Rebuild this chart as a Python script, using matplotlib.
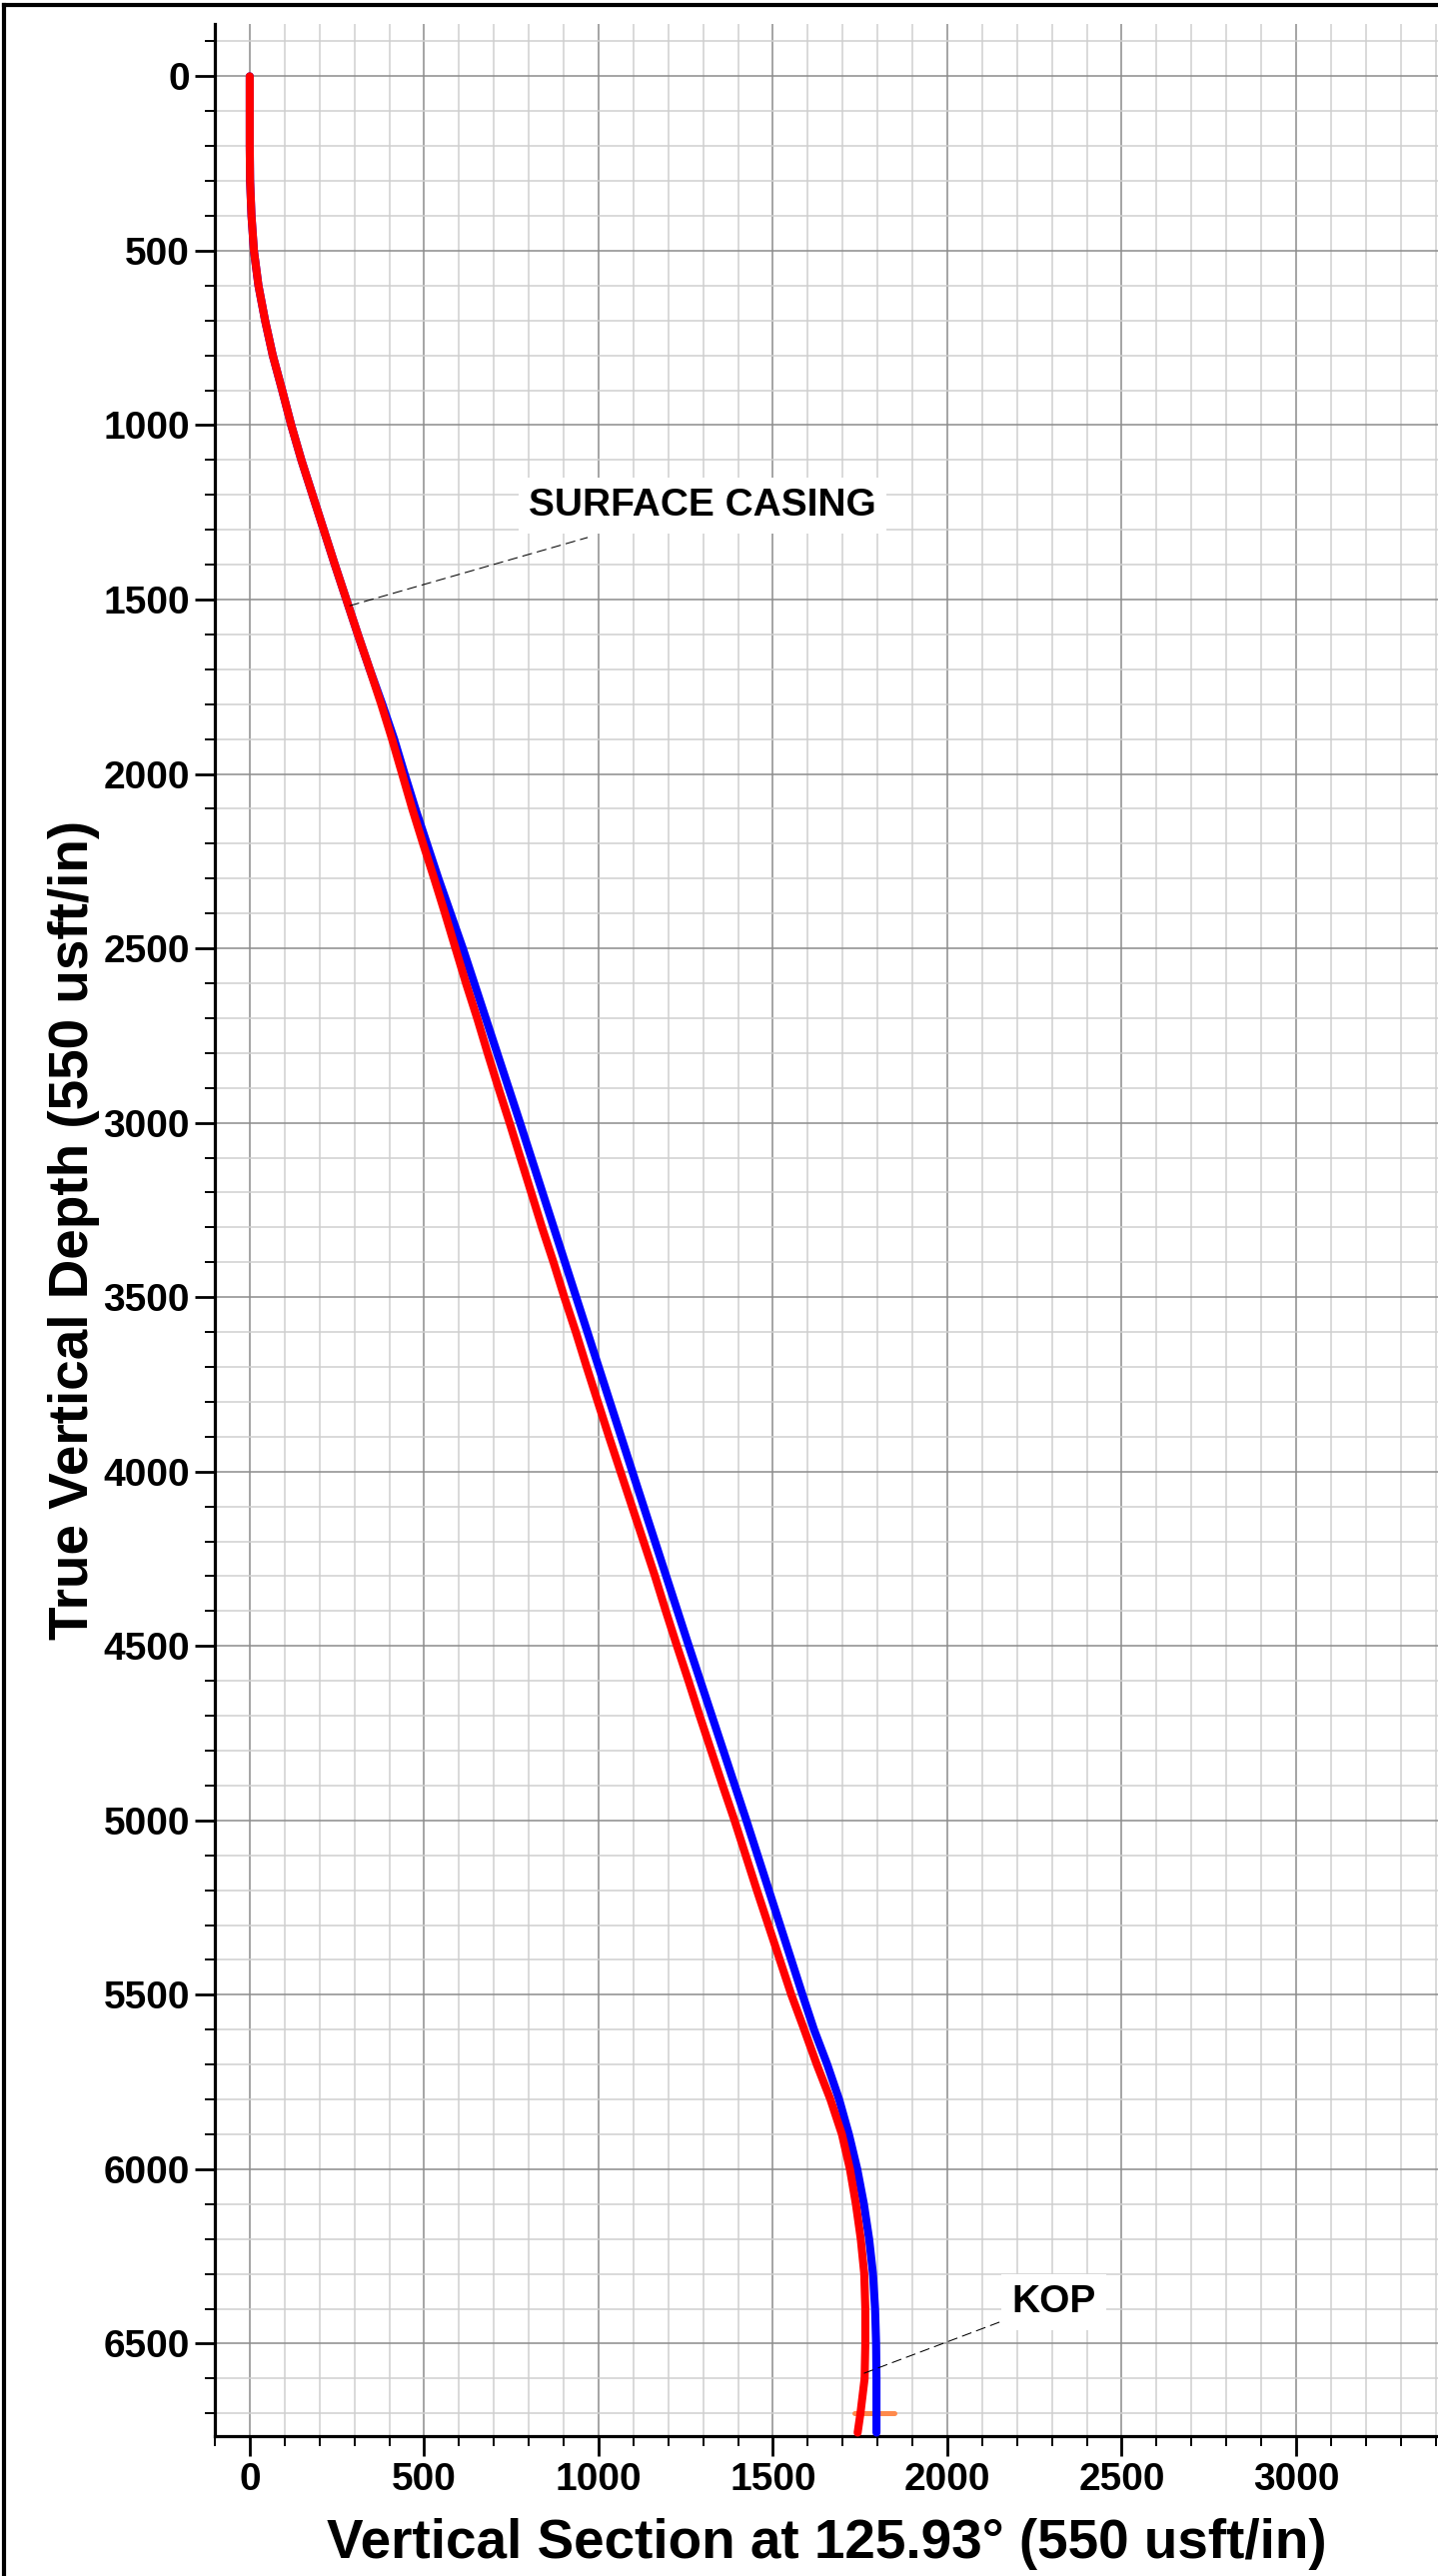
import matplotlib
matplotlib.use("Agg")
import matplotlib.pyplot as plt
from matplotlib.lines import Line2D
from matplotlib.ticker import MultipleLocator

plt.rcParams['font.family'] = ['Liberation Sans', 'DejaVu Sans']
plt.rcParams['font.weight'] = 'bold'

# ---------------- data ----------------
# Actual (red) trajectory: true vertical depth vs vertical section
actual_tvd = [0, 100, 200, 300, 400, 500, 600, 700, 800, 900, 1000, 1100, 1200,
              1300, 1400, 1500, 1600, 1700, 1800, 1900, 2000, 2100, 2200, 2300,
              2400, 2500, 2600, 2700, 2800, 2900, 3000, 3100, 3200, 3300, 3400,
              3500, 3600, 3700, 3800, 3900, 4000, 4100, 4200, 4300, 4400, 4500,
              4600, 4700, 4800, 4900, 5000, 5100, 5200, 5300, 5400, 5500, 5600,
              5700, 5800, 5900, 6000, 6100, 6200, 6300, 6400, 6500, 6600, 6700,
              6755]
actual_vs = [0, 0, 0, 1, 5, 12, 25, 44, 66, 93, 119, 148, 180,
             212, 244, 277, 310, 344, 377, 408, 437, 466, 497, 529,
             560, 590, 620, 652, 682, 713, 745, 776, 807, 838, 871,
             902, 935, 966, 998, 1030, 1063, 1096, 1129, 1162, 1193, 1225,
             1258, 1290, 1323, 1356, 1390, 1422, 1454, 1487, 1520, 1553, 1590,
             1626, 1665, 1698, 1721, 1738, 1752, 1762, 1765, 1765, 1763, 1751,
             1743]

# Planned (blue) trajectory
plan_tvd = [0, 100, 200, 300, 400, 500, 600, 700, 800, 900, 1000, 1100, 1200,
            1300, 1400, 1500, 1600, 1700, 1800, 1900, 2000, 2100, 2200, 2300,
            2500, 3000, 3500, 4000, 4500, 5000, 5500, 5600, 5700, 5800, 5900,
            6000, 6100, 6200, 6300, 6400, 6500, 6600, 6755]
plan_vs = [0, 0, 0, 1, 5, 12, 25, 44, 66, 93, 119, 148, 180,
           212, 244, 277, 310, 344, 380, 414, 444, 475, 508, 541,
           611, 775, 936, 1097, 1259, 1424, 1585, 1618, 1656, 1690, 1718,
           1742, 1761, 1776, 1787, 1793, 1796, 1797, 1797]

# Short orange marker near the bottom
marker_vs = [1734, 1849]
marker_tvd = [6698, 6698]

# Annotations
annot_labels = ["SURFACE CASING", "KOP"]
annot_text_xy = [(1299, 1230), (2305, 6382)]
annot_line_start = [(286, 1518), (1761, 6585)]
annot_line_end = [(969, 1322), (2153, 6437)]

x_major_ticks = [0, 500, 1000, 1500, 2000, 2500, 3000]
y_major_ticks = [0, 500, 1000, 1500, 2000, 2500, 3000, 3500, 4000, 4500,
                 5000, 5500, 6000, 6500]

# ---------------- figure ----------------
W, H = 1439, 2578
fig = plt.figure(figsize=(W / 100, H / 100), dpi=100)
ax = fig.add_axes([215 / W, 1 - 2438 / H, 1 - 215 / W, (2438 - 24) / H])

ax.set_xlim(-100, 3407)
ax.set_ylim(6765, -150)

ax.xaxis.set_major_locator(MultipleLocator(500))
ax.xaxis.set_minor_locator(MultipleLocator(100))
ax.yaxis.set_major_locator(MultipleLocator(500))
ax.yaxis.set_minor_locator(MultipleLocator(100))
ax.set_xticks(x_major_ticks)
ax.set_yticks(y_major_ticks)

ax.grid(which='major', color='#8c8c8c', linewidth=1.1, zorder=0)
ax.grid(which='minor', color='#cfcfcf', linewidth=1.1, zorder=0)
ax.set_axisbelow(True)

for s in ['top', 'right']:
    ax.spines[s].set_visible(False)
for s in ['left', 'bottom']:
    ax.spines[s].set_linewidth(2.3)
    ax.spines[s].set_color('black')

ax.tick_params(which='major', length=14.4, width=2.0, labelsize=28, pad=3.6,
               direction='out', color='black')
ax.tick_params(which='minor', length=7.2, width=1.4, direction='out', color='black')
ax.tick_params(axis='x', which='major', pad=4.5)
for lab in ax.get_xticklabels() + ax.get_yticklabels():
    lab.set_fontweight('bold')

# trajectories
ax.plot(plan_vs, plan_tvd, color='#0000ff', linewidth=5.8,
        solid_capstyle='round', solid_joinstyle='round', zorder=3, clip_on=False)
ax.plot(actual_vs, actual_tvd, color='#ff0000', linewidth=5.8,
        solid_capstyle='round', solid_joinstyle='round', zorder=4, clip_on=False)
ax.plot(marker_vs, marker_tvd, color='#ff8a4c', linewidth=3.6,
        solid_capstyle='round', zorder=2)

# annotations
for lab, (tx, ty), (sx, sy), (ex, ey) in zip(annot_labels, annot_text_xy,
                                             annot_line_start, annot_line_end):
    ax.plot([sx, ex], [sy, ey], color='black', linewidth=0.75,
            linestyle=(0, (9.6, 4.8)), zorder=5)
    ax.text(tx, ty, lab, fontsize=28, fontweight='bold', ha='center', va='center',
            zorder=6, bbox=dict(boxstyle='square,pad=0.26', facecolor='white',
                                edgecolor='none'))

ax.set_xlabel("Vertical Section at 125.93° (550 usft/in)", fontsize=39.5,
              fontweight='bold')
ax.set_ylabel("True Vertical Depth (550 usft/in)", fontsize=39.5,
              fontweight='bold')
ax.xaxis.set_label_coords(0.5, -0.034)
ax.yaxis.set_label_coords(-0.094, 0.5)

# outer frame (top and left visible)
fx = 3.7 / W
fy = 1 - 5.3 / H
fig.add_artist(Line2D([fx, fx], [0, fy], transform=fig.transFigure,
                      color='black', linewidth=3.0, solid_capstyle='projecting'))
fig.add_artist(Line2D([fx, 1], [fy, fy], transform=fig.transFigure,
                      color='black', linewidth=3.0, solid_capstyle='projecting'))

fig.savefig("out.png", dpi=100)
